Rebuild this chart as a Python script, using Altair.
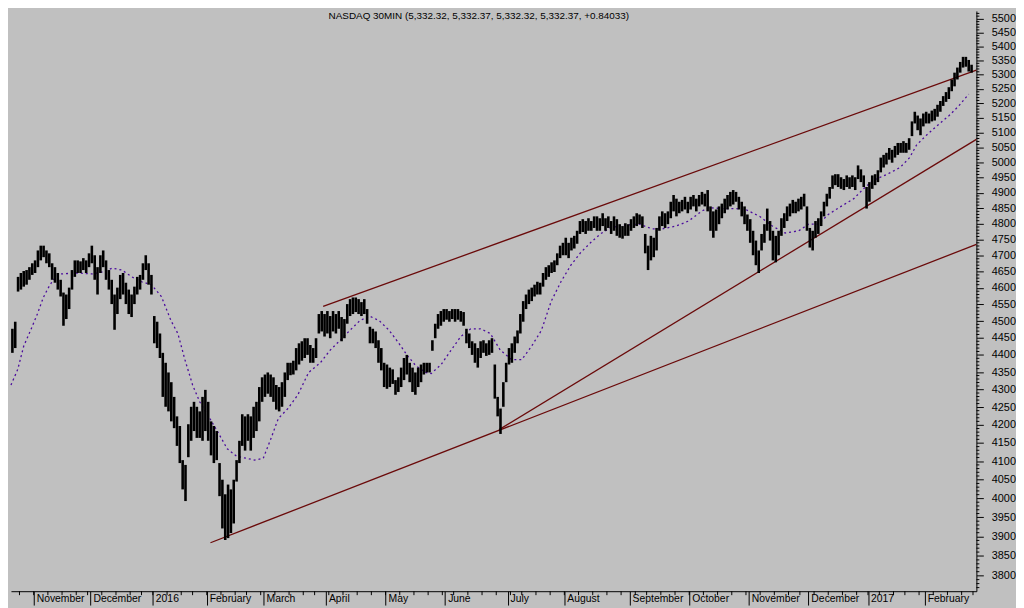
import altair as alt
import pandas as pd

# ---------------- data ----------------
title_text = "NASDAQ 30MIN (5,332.32, 5,332.37, 5,332.32, 5,332.37, +0.84033)"

holidays = ["2015-11-26", "2015-12-25", "2016-01-01", "2016-01-18", "2016-02-15",
            "2016-03-25", "2016-05-30", "2016-07-04", "2016-09-05", "2016-11-24",
            "2016-12-26", "2017-01-02", "2017-01-16", "2017-02-20"]
first_day = "2015-10-21"
last_day = "2017-02-28"

month_names = ["November", "December", "2016", "February", "March", "April", "May",
               "June", "July", "August", "September", "October", "November",
               "December", "2017", "February"]

# daily high / low (index points), one pair per trading day
day_hi = [
    4477, 4498, 4634, 4646, 4652, 4655, 4664, 4676, 4685, 4716,
    4731, 4731, 4716, 4707, 4676, 4664, 4646, 4625, 4586, 4580,
    4601, 4655, 4685, 4685, 4682, 4692, 4685, 4707, 4731, 4701,
    4664, 4701, 4716, 4685, 4655, 4625, 4580, 4601, 4640, 4646,
    4616, 4595, 4580, 4604, 4634, 4640, 4676, 4701, 4676, 4640,
    4515, 4498, 4463, 4406, 4377, 4349, 4321, 4279, 4224, 4197,
    4103, 4090, 4202, 4251, 4265, 4251, 4238, 4279, 4299, 4265,
    4210, 4197, 4183, 4095, 4050, 4011, 4037, 4024, 4050, 4103,
    4156, 4230, 4224, 4230, 4224, 4251, 4265, 4307, 4335, 4343,
    4349, 4343, 4335, 4313, 4307, 4321, 4349, 4377, 4377, 4383,
    4420, 4434, 4440, 4449, 4449, 4429, 4420, 4449, 4521, 4530,
    4521, 4530, 4515, 4530, 4521, 4530, 4512, 4506, 4551, 4566,
    4571, 4571, 4566, 4557, 4566, 4536, 4483, 4477, 4469, 4443,
    4420, 4377, 4372, 4363, 4358, 4327, 4335, 4363, 4391, 4400,
    4377, 4363, 4349, 4363, 4372, 4377, 4377, 4377, 4443, 4492,
    4521, 4530, 4536, 4536, 4530, 4536, 4536, 4536, 4530, 4527,
    4477, 4463, 4440, 4434, 4420, 4440, 4443, 4434, 4443, 4449,
    4372, 4279, 4246, 4321, 4377, 4420, 4434, 4454, 4472, 4521,
    4560, 4580, 4595, 4601, 4610, 4619, 4616, 4646, 4664, 4670,
    4679, 4685, 4707, 4731, 4740, 4756, 4740, 4756, 4762, 4778,
    4809, 4815, 4809, 4818, 4809, 4824, 4824, 4818, 4834, 4818,
    4824, 4809, 4824, 4815, 4799, 4793, 4802, 4799, 4815, 4824,
    4834, 4830, 4824, 4768, 4731, 4762, 4756, 4787, 4824, 4840,
    4834, 4840, 4871, 4893, 4881, 4871, 4877, 4887, 4871, 4887,
    4893, 4881, 4893, 4903, 4897, 4909, 4856, 4840, 4846, 4856,
    4865, 4881, 4893, 4903, 4909, 4903, 4887, 4871, 4856, 4830,
    4815, 4778, 4747, 4716, 4768, 4799, 4849, 4809, 4778, 4762,
    4778, 4818, 4834, 4856, 4865, 4877, 4871, 4881, 4887, 4897,
    4856, 4787, 4778, 4809, 4818, 4840, 4871, 4897, 4919, 4957,
    4961, 4961, 4951, 4945, 4957, 4951, 4957, 4951, 4990, 4977,
    4957, 4919, 4935, 4957, 4961, 4974, 5016, 5025, 5032, 5048,
    5042, 5055, 5065, 5065, 5071, 5065, 5081, 5138, 5171, 5158,
    5148, 5165, 5171, 5165, 5175, 5181, 5195, 5208, 5225, 5239,
    5256, 5283, 5307, 5325, 5345, 5363, 5363, 5352, 5335,
]
day_lo = [
    4406, 4420, 4589, 4595, 4604, 4610, 4625, 4640, 4646, 4664,
    4685, 4695, 4676, 4664, 4625, 4616, 4595, 4574, 4486, 4506,
    4536, 4595, 4634, 4646, 4646, 4655, 4646, 4664, 4676, 4625,
    4580, 4646, 4664, 4625, 4595, 4551, 4474, 4521, 4566, 4580,
    4551, 4521, 4512, 4551, 4580, 4595, 4625, 4655, 4610, 4580,
    4434, 4420, 4391, 4279, 4251, 4238, 4210, 4191, 4142, 4095,
    4024, 3993, 4111, 4156, 4183, 4164, 4164, 4156, 4183, 4156,
    4116, 4095, 4103, 4006, 3921, 3891, 3896, 3909, 3934, 4045,
    4095, 4142, 4129, 4156, 4129, 4164, 4183, 4210, 4265, 4279,
    4288, 4279, 4265, 4243, 4238, 4251, 4279, 4327, 4341, 4343,
    4355, 4372, 4383, 4391, 4400, 4377, 4377, 4391, 4463, 4469,
    4454, 4463, 4449, 4469, 4463, 4477, 4440, 4449, 4492, 4515,
    4521, 4527, 4521, 4515, 4521, 4492, 4434, 4434, 4420, 4377,
    4355, 4307, 4302, 4307, 4316, 4285, 4293, 4307, 4327, 4343,
    4321, 4293, 4285, 4307, 4321, 4343, 4349, 4349, 4412, 4449,
    4477, 4486, 4498, 4504, 4498, 4506, 4498, 4504, 4498, 4486,
    4434, 4420, 4400, 4377, 4363, 4391, 4406, 4397, 4400, 4406,
    4274, 4224, 4175, 4251, 4321, 4372, 4377, 4406, 4434, 4463,
    4498, 4536, 4551, 4560, 4574, 4580, 4580, 4604, 4625, 4634,
    4646, 4649, 4670, 4692, 4701, 4701, 4692, 4716, 4722, 4737,
    4768, 4774, 4768, 4778, 4778, 4787, 4778, 4778, 4793, 4778,
    4787, 4768, 4778, 4762, 4756, 4753, 4762, 4762, 4778, 4787,
    4793, 4799, 4787, 4707, 4655, 4685, 4695, 4716, 4778, 4793,
    4787, 4799, 4818, 4840, 4824, 4834, 4840, 4846, 4834, 4846,
    4856, 4840, 4856, 4862, 4856, 4840, 4778, 4756, 4778, 4799,
    4818, 4834, 4846, 4856, 4862, 4871, 4846, 4824, 4799, 4778,
    4740, 4701, 4670, 4646, 4716, 4740, 4778, 4747, 4685, 4679,
    4701, 4762, 4787, 4809, 4824, 4834, 4834, 4840, 4846, 4856,
    4778, 4725, 4716, 4756, 4768, 4793, 4824, 4856, 4881, 4913,
    4925, 4919, 4913, 4909, 4919, 4913, 4919, 4909, 4945, 4935,
    4919, 4849, 4871, 4913, 4925, 4935, 4967, 4983, 4993, 5009,
    4999, 5016, 5025, 5032, 5032, 5032, 5042, 5088, 5131, 5108,
    5091, 5121, 5131, 5131, 5138, 5141, 5154, 5171, 5191, 5205,
    5215, 5242, 5259, 5283, 5307, 5325, 5328, 5311, 5307,
]

# moving average (dashed purple) : trading-day position and value
ma_day = [0, 2.4, 4.5, 6.9, 9.3, 11.4, 13.2, 14.9, 17.3, 23.2, 28.7, 32.2, 35.7, 39.1,
          42.6, 46, 49.5, 53, 56.4, 58.8, 61.3, 64, 66.5, 69.2, 72.7, 76.2, 79.6, 83.1,
          85.8, 88.9, 91.7, 94.2, 97.6, 101.1, 104.9, 109, 112.5, 116, 119.4, 122.9,
          126.3, 129.8, 133.3, 136.7, 139.5, 142.6, 146.1, 148.1, 151.6, 155.1, 158.5,
          162, 165.5, 168.9, 172.4, 176.5, 180, 183.5, 186.9, 190.4, 193.8, 197.3,
          200.8, 204.2, 207.7, 211.1, 215.6, 221.5, 226, 229.5, 234.3, 238.8, 243.3,
          245.8, 250.3, 255.1, 258.9, 263.8, 268.3, 272.8, 277.6, 281.1, 284.5, 288,
          292.5, 297, 300.4, 303.9, 308.8, 313.3, 316.7, 319.1, 322.6, 326.1, 330.6,
          334, 337.5]
ma_val = [4313, 4358, 4426, 4472, 4521, 4571, 4601, 4625, 4643, 4646, 4643, 4649, 4661,
          4655, 4634, 4619, 4610, 4574, 4501, 4463, 4386, 4313, 4265, 4230, 4183, 4134,
          4113, 4108, 4103, 4108, 4164, 4218, 4246, 4285, 4349, 4377, 4414, 4443, 4472,
          4501, 4515, 4501, 4472, 4434, 4400, 4369, 4349, 4346, 4372, 4414, 4454, 4477,
          4477, 4463, 4414, 4386, 4386, 4426, 4472, 4560, 4619, 4670, 4710, 4740, 4768,
          4787, 4796, 4799, 4784, 4784, 4793, 4809, 4840, 4852, 4849, 4849, 4846, 4824,
          4793, 4771, 4778, 4799, 4799, 4830, 4856, 4881, 4913, 4941, 4961, 4983, 5016,
          5058, 5091, 5121, 5158, 5191, 5232]

# trend lines: start / end (trading-day position, value)
trend_id = ["A", "A", "B", "B", "C", "C"]
trend_day = [70.3, 340.2, 172.0, 340.2, 110.0, 340.2]
trend_val = [3884, 4735, 4187, 5077, 4544, 5316]

x_range = [0, 340.2]
y_range = [3761, 5529]
y_labels = list(range(3800, 5501, 50))
y_minor = [v for v in range(3770, 5530, 10) if v % 50 != 0]

# ---------------- tables ----------------
cal = pd.bdate_range(first_day, last_day)
cal = cal[~cal.isin(pd.to_datetime(holidays))]
n = len(day_hi)
bars = pd.DataFrame({"i": range(n), "hi": day_hi, "lo": day_lo})
bars["xc"] = bars["i"] + 0.5

cal_df = pd.DataFrame({"d": cal})
cal_df["i"] = range(len(cal_df))
month_idx = cal_df.groupby([cal_df.d.dt.year, cal_df.d.dt.month])["i"].min().tolist()[1:]
month_idx = month_idx[:len(month_names)]
week_idx = cal_df.groupby(cal_df.d.dt.to_period("W"))["i"].min().tolist()[1:]
week_idx = [w for w in week_idx if w <= x_range[1]]

months = pd.DataFrame({"m": month_idx, "name": month_names})
weeks = pd.DataFrame({"w": week_idx})
ma = pd.DataFrame({"d": ma_day, "v": ma_val})
trends = pd.DataFrame({"id": trend_id, "d": trend_day, "v": trend_val})
minor = pd.DataFrame({"v": y_minor})

W, H = 975, 586
FONT = "Liberation Sans"

xs = alt.Scale(domain=x_range, nice=False, zero=False)
ys = alt.Scale(type="log", domain=y_range, nice=False, zero=False)
xa = alt.Axis(values=month_idx, tickSize=14, labels=False, grid=False, title=None,
              domainColor="black", tickColor="black", orient="bottom")
ya = alt.Axis(values=y_labels, orient="right", tickSize=7, labelPadding=8, grid=False,
              title=None, domainColor="black", tickColor="black", labelColor="black",
              labelFont=FONT, labelFontSize=11, labelOverlap=False, format="d",
              labelBaseline="middle")

ma_layer = alt.Chart(ma).mark_line(color="#4b0c9c", strokeWidth=1.3, strokeDash=[2, 3]).encode(
    x=alt.X("d:Q", scale=xs, axis=xa), y=alt.Y("v:Q", scale=ys, axis=ya))

trend_layer = alt.Chart(trends).mark_line(color="#6a0a0a", strokeWidth=1.3).encode(
    x=alt.X("d:Q", scale=xs, axis=xa), y=alt.Y("v:Q", scale=ys, axis=ya), detail="id:N")

bar_layer = alt.Chart(bars).mark_rule(color="black", strokeWidth=2.6).encode(
    x=alt.X("xc:Q", scale=xs, axis=xa), y=alt.Y("lo:Q", scale=ys, axis=ya), y2="hi:Q")

week_layer = alt.Chart(weeks).mark_rule(color="black", strokeWidth=1).encode(
    x=alt.X("w:Q", scale=xs, axis=xa), y=alt.value(H), y2=alt.value(H + 4))

month_layer = alt.Chart(months).mark_text(align="left", baseline="top", dx=3, font=FONT,
                                          fontSize=10.5, color="black").encode(
    x=alt.X("m:Q", scale=xs, axis=xa), y=alt.value(H + 3), text="name:N")

minor_layer = alt.Chart(minor).mark_rule(color="black", strokeWidth=1).encode(
    y=alt.Y("v:Q", scale=ys, axis=ya), x=alt.value(W), x2=alt.value(W + 3))

chart = alt.layer(ma_layer, trend_layer, bar_layer, week_layer, month_layer, minor_layer).properties(
    width=W, height=H, padding=0,
    title=alt.TitleParams(title_text, font=FONT, fontSize=10, fontWeight="normal",
                          color="black", anchor="middle", dx=-15, offset=-10,
                          baseline="top"),
).configure(background="#c0c0c0").configure_view(stroke=None)

chart.save("out.html", embed_options={"renderer": "svg", "actions": False})
